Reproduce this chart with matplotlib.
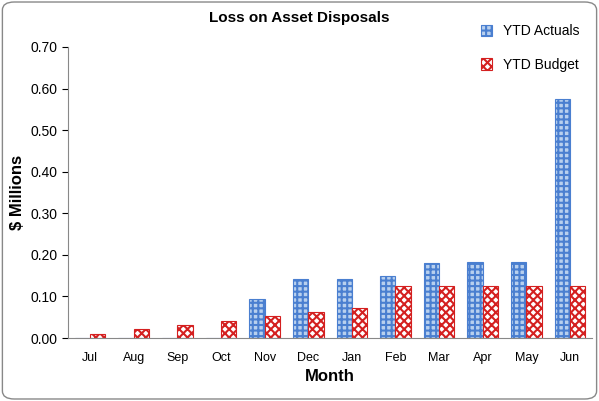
import matplotlib.pyplot as plt
import numpy as np
from matplotlib.patches import FancyBboxPatch

months = ['Jul', 'Aug', 'Sep', 'Oct', 'Nov', 'Dec', 'Jan', 'Feb', 'Mar', 'Apr', 'May', 'Jun']
ytd_actuals = [0, 0, 0, 0, 0.093, 0.142, 0.142, 0.148, 0.180, 0.182, 0.182, 0.575]
ytd_budget = [0.010, 0.021, 0.031, 0.041, 0.052, 0.062, 0.072, 0.124, 0.124, 0.124, 0.124, 0.124]

plt.rcParams['font.family'] = ['Liberation Sans', 'DejaVu Sans']
plt.rcParams['hatch.linewidth'] = 1.5

fig = plt.figure(figsize=(5.99, 4.01), dpi=100)
ax = fig.add_axes([0.114, 0.157, 0.874, 0.726])
fig.patches.append(FancyBboxPatch((0.004, 0.005), 0.992, 0.99, boxstyle='round,pad=0,rounding_size=0.02',
                                  transform=fig.transFigure, fill=False, edgecolor='#888888', lw=1))

x = np.arange(len(months))
w = 0.35
ax.bar(x - w / 2, ytd_actuals, w, color='#b8d0ee', edgecolor='#4a7fd0', hatch='+++', lw=0.8, label='YTD Actuals')
ax.bar(x + w / 2, ytd_budget, w, color='white', edgecolor='#d42020', hatch='xxxx', lw=0.8, label='YTD Budget')

ax.set_xlim(-0.5, 11.5)
ax.set_ylim(0, 0.70)
ax.set_yticks(np.arange(0, 0.71, 0.1))
ax.set_yticklabels([f'{v:.2f}' for v in np.arange(0, 0.71, 0.1)], fontsize=10)
ax.set_xticks(x)
ax.set_xticklabels(months, fontsize=9)
ax.tick_params(axis='x', length=0, pad=10)
ax.tick_params(axis='y', length=4)
for s in ['top', 'right']:
    ax.spines[s].set_visible(False)
ax.spines['left'].set_color('#888888')
ax.spines['bottom'].set_color('#888888')

ax.set_xlabel('Month', fontsize=12, fontweight='bold')
ax.set_ylabel('$ Millions', fontsize=12, fontweight='bold')
fig.text(0.5, 0.955, 'Loss on Asset Disposals', ha='center', va='center', fontsize=11, fontweight='bold')

ax.legend(loc='upper right', bbox_to_anchor=(1.0, 1.12), frameon=False, fontsize=10,
          labelspacing=1.4, handlelength=0.8, handleheight=0.9)

fig.savefig('out.png', dpi=100)
